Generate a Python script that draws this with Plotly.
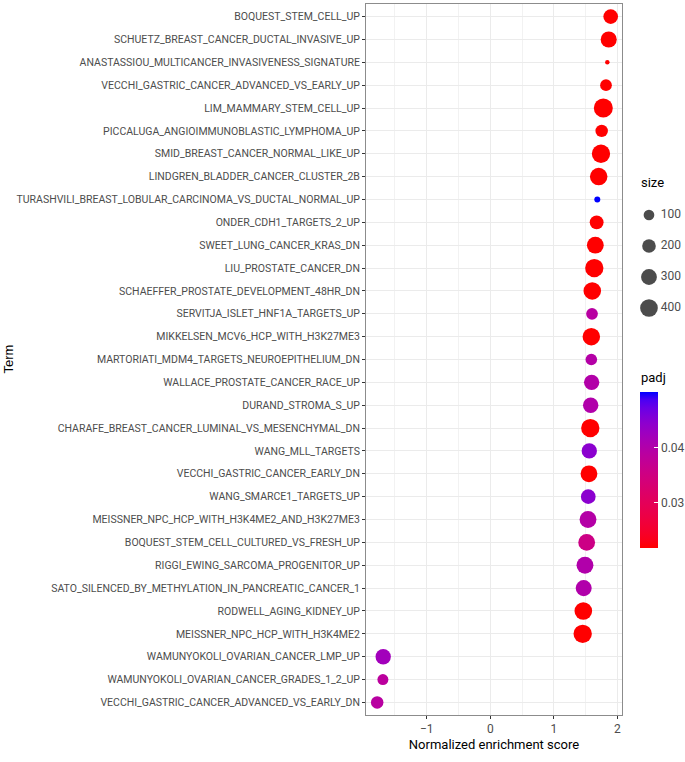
import math
import plotly.graph_objects as go

# ---------------- data ----------------
terms = [
    "BOQUEST_STEM_CELL_UP",
    "SCHUETZ_BREAST_CANCER_DUCTAL_INVASIVE_UP",
    "ANASTASSIOU_MULTICANCER_INVASIVENESS_SIGNATURE",
    "VECCHI_GASTRIC_CANCER_ADVANCED_VS_EARLY_UP",
    "LIM_MAMMARY_STEM_CELL_UP",
    "PICCALUGA_ANGIOIMMUNOBLASTIC_LYMPHOMA_UP",
    "SMID_BREAST_CANCER_NORMAL_LIKE_UP",
    "LINDGREN_BLADDER_CANCER_CLUSTER_2B",
    "TURASHVILI_BREAST_LOBULAR_CARCINOMA_VS_DUCTAL_NORMAL_UP",
    "ONDER_CDH1_TARGETS_2_UP",
    "SWEET_LUNG_CANCER_KRAS_DN",
    "LIU_PROSTATE_CANCER_DN",
    "SCHAEFFER_PROSTATE_DEVELOPMENT_48HR_DN",
    "SERVITJA_ISLET_HNF1A_TARGETS_UP",
    "MIKKELSEN_MCV6_HCP_WITH_H3K27ME3",
    "MARTORIATI_MDM4_TARGETS_NEUROEPITHELIUM_DN",
    "WALLACE_PROSTATE_CANCER_RACE_UP",
    "DURAND_STROMA_S_UP",
    "CHARAFE_BREAST_CANCER_LUMINAL_VS_MESENCHYMAL_DN",
    "WANG_MLL_TARGETS",
    "VECCHI_GASTRIC_CANCER_EARLY_DN",
    "WANG_SMARCE1_TARGETS_UP",
    "MEISSNER_NPC_HCP_WITH_H3K4ME2_AND_H3K27ME3",
    "BOQUEST_STEM_CELL_CULTURED_VS_FRESH_UP",
    "RIGGI_EWING_SARCOMA_PROGENITOR_UP",
    "SATO_SILENCED_BY_METHYLATION_IN_PANCREATIC_CANCER_1",
    "RODWELL_AGING_KIDNEY_UP",
    "MEISSNER_NPC_HCP_WITH_H3K4ME2",
    "WAMUNYOKOLI_OVARIAN_CANCER_LMP_UP",
    "WAMUNYOKOLI_OVARIAN_CANCER_GRADES_1_2_UP",
    "VECCHI_GASTRIC_CANCER_ADVANCED_VS_EARLY_DN",
]
nes = [1.896, 1.865, 1.843, 1.822, 1.780, 1.754, 1.743, 1.707, 1.685, 1.675,
       1.654, 1.638, 1.606, 1.602, 1.591, 1.591, 1.596, 1.581, 1.575, 1.559,
       1.554, 1.543, 1.539, 1.518, 1.491, 1.471, 1.465, 1.455, -1.685, -1.690,
       -1.780]
set_size = [243, 312, 15, 130, 480, 156, 435, 390, 20, 210,
            350, 435, 392, 131, 390, 128, 276, 278, 436, 275,
            350, 245, 352, 348, 355, 310, 395, 438, 276, 108,
            158]
padj = [0.0218, 0.0218, 0.0218, 0.0218, 0.0218, 0.0218, 0.0218, 0.0218, 0.0500, 0.0218,
        0.0218, 0.0218, 0.0218, 0.0390, 0.0218, 0.0395, 0.0398, 0.0400, 0.0218, 0.0445,
        0.0218, 0.0445, 0.0395, 0.0355, 0.0400, 0.0400, 0.0218, 0.0218, 0.0420, 0.0385,
        0.0390]

x_ticks = [-1, 0, 1, 2]
size_breaks = [100, 200, 300, 400]
padj_breaks = [0.03, 0.04]

# ---------------- helpers ----------------
def srgb_to_lab(rgb):
    def lin(c):
        c = c / 255.0
        return c / 12.92 if c <= 0.04045 else ((c + 0.055) / 1.055) ** 2.4
    r, g, b = (lin(c) for c in rgb)
    X = 0.4124 * r + 0.3576 * g + 0.1805 * b
    Y = 0.2126 * r + 0.7152 * g + 0.0722 * b
    Z = 0.0193 * r + 0.1192 * g + 0.9505 * b
    X /= 0.95047; Z /= 1.08883
    def f(t):
        return t ** (1 / 3) if t > 0.008856 else 7.787 * t + 16 / 116
    fx, fy, fz = f(X), f(Y), f(Z)
    return (116 * fy - 16, 500 * (fx - fy), 200 * (fy - fz))

def lab_to_srgb(lab):
    L, a, b = lab
    fy = (L + 16) / 116
    fx = fy + a / 500
    fz = fy - b / 200
    def finv(t):
        return t ** 3 if t ** 3 > 0.008856 else (t - 16 / 116) / 7.787
    X = 0.95047 * finv(fx); Y = finv(fy); Z = 1.08883 * finv(fz)
    r = 3.2406 * X - 1.5372 * Y - 0.4986 * Z
    g = -0.9689 * X + 1.8758 * Y + 0.0415 * Z
    bb = 0.0557 * X - 0.2040 * Y + 1.0570 * Z
    def gam(c):
        c = max(0.0, min(1.0, c))
        return 12.92 * c if c <= 0.0031308 else 1.055 * c ** (1 / 2.4) - 0.055
    return tuple(int(round(255 * gam(c))) for c in (r, g, bb))

low_lab = srgb_to_lab((255, 0, 0))
high_lab = srgb_to_lab((0, 0, 255))
colorscale = []
for i in range(21):
    t = i / 20
    lab = tuple(l + (h - l) * t for l, h in zip(low_lab, high_lab))
    colorscale.append([t, "rgb(%d,%d,%d)" % lab_to_srgb(lab)])

D_MIN, D_MAX = 4.5, 19.0
vmin, vmax = min(set_size), max(set_size)

def diam(v):
    t = (v - vmin) / (vmax - vmin)
    t = max(0.0, min(1.0, t))
    return D_MIN + (D_MAX - D_MIN) * math.sqrt(t)

FONT = "Roboto, Liberation Sans, Arial, sans-serif"
TICK_COL = "#4D4D4D"

# geometry (pixels)
W, H = 685, 762
ML, MR, MT, MB = 366, 0, 4, 47
PW = W - ML - MR
PH = H - MT - MB
PANEL_R = 622

def px_x(p):
    return (p - ML) / PW

def px_y(p):
    return (H - MB - p) / PH

fig = go.Figure()

fig.add_trace(go.Scatter(
    x=nes, y=terms, mode="markers",
    marker=dict(
        size=[diam(v) for v in set_size],
        color=padj,
        cmin=min(padj), cmax=max(padj),
        colorscale=colorscale,
        line=dict(width=0),
        opacity=1,
        colorbar=dict(
            x=px_x(640), xanchor="left", xref="paper",
            y=px_y(470), yanchor="middle",
            xpad=0, ypad=0,
            thickness=18, thicknessmode="pixels",
            len=156, lenmode="pixels",
            outlinewidth=0,
            tickvals=padj_breaks,
            ticktext=["%.2f" % v for v in padj_breaks],
            ticks="inside", ticklen=4, tickcolor="white", tickwidth=1,
            tickfont=dict(family=FONT, size=12, color=TICK_COL),
        ),
    ),
    showlegend=False, hoverinfo="x+y",
))

# size legend on auxiliary axes
fig.add_trace(go.Scatter(
    x=[0.345] * len(size_breaks), y=list(range(len(size_breaks))),
    mode="markers",
    marker=dict(size=[diam(v) for v in size_breaks], color="black", line=dict(width=0)),
    xaxis="x2", yaxis="y2", showlegend=False, hoverinfo="skip",
))
fig.add_trace(go.Scatter(
    x=[0.56] * len(size_breaks), y=list(range(len(size_breaks))),
    mode="text", text=[str(v) for v in size_breaks],
    textposition="middle right",
    textfont=dict(family=FONT, size=12, color=TICK_COL),
    xaxis="x2", yaxis="y2", showlegend=False, hoverinfo="skip",
))

fig.update_layout(
    width=W, height=H,
    margin=dict(l=ML, r=MR, t=MT, b=MB, autoexpand=False),
    paper_bgcolor="white", plot_bgcolor="white",
    xaxis=dict(
        domain=[0, px_x(PANEL_R)],
        range=[-1.956, 2.074],
        tickvals=x_ticks,
        ticks="outside", ticklen=3, tickcolor="#333333", tickwidth=1,
        tickfont=dict(family=FONT, size=12, color=TICK_COL),
        showgrid=True, gridcolor="#EBEBEB", gridwidth=1.4,
        minor=dict(dtick=0.5, tick0=0, showgrid=True, gridcolor="#F2F2F2", gridwidth=0.8, ticks=""),
        zeroline=False,
        showline=True, linecolor="#8C8C8C", linewidth=1, mirror=True,
        title=dict(text="Normalized enrichment score",
                   font=dict(family=FONT, size=13, color="black"), standoff=4),
        automargin=False,
    ),
    yaxis=dict(
        type="category",
        categoryorder="array", categoryarray=terms,
        range=[len(terms) - 1 + 0.55, -0.55],
        ticks="outside", ticklen=3, tickcolor="#333333", tickwidth=1,
        tickfont=dict(family=FONT, size=10.5, color=TICK_COL),
        showgrid=True, gridcolor="#EBEBEB", gridwidth=1.4,
        zeroline=False,
        showline=True, linecolor="#8C8C8C", linewidth=1, mirror=True,
        automargin=False,
    ),
    xaxis2=dict(domain=[px_x(630), 1], range=[0, 1], visible=False, anchor="y2", fixedrange=True),
    yaxis2=dict(domain=[px_y(323.5), px_y(199.5)], range=[len(size_breaks) - 0.5, -0.5],
                visible=False, anchor="x2", fixedrange=True),
    annotations=[
        dict(text="size", x=px_x(639), y=px_y(183), xref="paper", yref="paper",
             xanchor="left", yanchor="middle", showarrow=False,
             font=dict(family=FONT, size=13, color="black")),
        dict(text="padj", x=px_x(639), y=px_y(377), xref="paper", yref="paper",
             xanchor="left", yanchor="middle", showarrow=False,
             font=dict(family=FONT, size=13, color="black")),
        dict(text="Term", x=-(ML - 8) / PW, y=0.5, xref="paper", yref="paper",
             xanchor="center", yanchor="middle", showarrow=False, textangle=-90,
             font=dict(family="Liberation Sans, Arial, sans-serif", size=13, color="black")),
    ],
)

fig.write_html("out.html", config={"displayModeBar": False},
               post_script="document.body.style.margin='0';")
